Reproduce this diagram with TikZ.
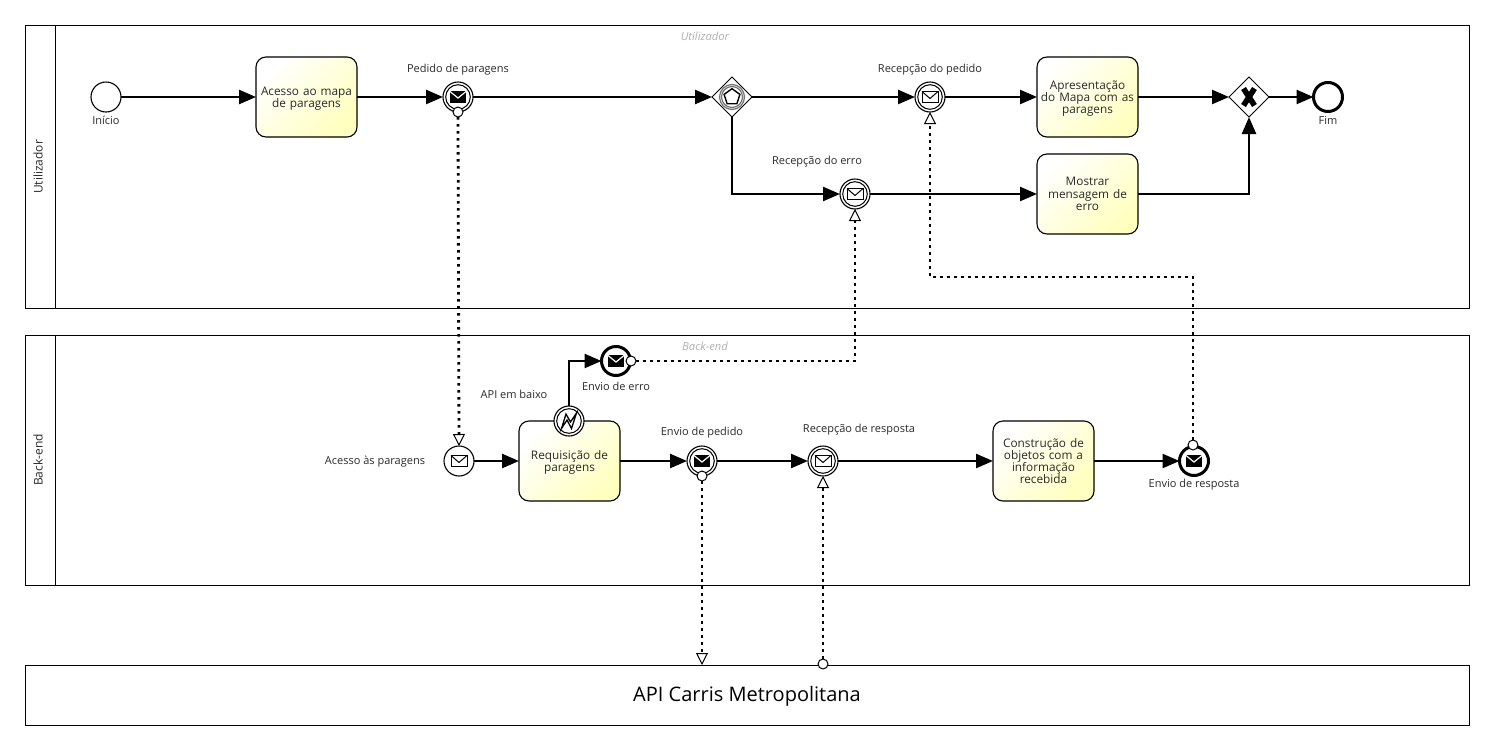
\documentclass[tikz,border=0pt]{standalone}
\usepackage{fontspec}
\setmainfont{Open Sans}
\usetikzlibrary{arrows.meta,shapes.geometric,calc}
\definecolor{txt}{HTML}{2A2A2A}
\newcommand{\balance}{\rule{0pt}{5.8pt}}
\tikzset{
  x=0.5pt,y=-0.5pt,
  pool/.style={draw=black,line width=0.5pt,fill=white,rectangle,inner sep=0pt,outer sep=0pt},
  lbl/.style={font=\fontsize{5.5}{6.5}\selectfont,text=txt,inner sep=0pt,align=center},
  lanetitle/.style={font=\fontsize{6}{7}\selectfont,text=txt,inner sep=0pt,rotate=90},
  pooltop/.style={font=\itshape\fontsize{5.6}{6.6}\selectfont,text=black!30,inner sep=0pt},
  task/.style={draw=black,line width=0.55pt,rectangle,rounded corners=5pt,minimum width=50.5pt,minimum height=40pt,
    inner sep=0pt,outer sep=0pt,text width=49.5pt,align=center,font=\fontsize{5.9}{6.1}\selectfont,text=txt,
    shading=axis,left color=white,right color=yellow!25!white,shading angle=45},
  evt/.style={draw=black,fill=white,circle,line width=0.55pt,minimum size=15pt,inner sep=0pt,outer sep=0pt},
  thickevt/.style={evt,line width=1.5pt,minimum size=14.5pt},
  dot/.style={draw=black,fill=white,circle,line width=0.5pt,minimum size=5pt,inner sep=0pt,outer sep=0pt},
  gate/.style={draw=black,fill=white,diamond,aspect=1,line width=0.5pt,minimum size=20pt,inner sep=0pt,outer sep=0pt},
  seqflow/.style={draw=black,line width=1.2pt,-{Triangle[length=8.5pt,width=7pt]}},
  msgflow/.style={draw=black,line width=1.4pt,dash pattern=on 1.3pt off 2.2pt},
  msgtip/.style={msgflow,-{Triangle[open,length=6pt,width=6pt,line width=0.5pt,fill=white]}},
}
\newcommand{\ringat}[1]{\draw[black,line width=0.5pt] (#1) circle (12.3);}
\newcommand{\envblack}[1]{\begin{scope}[shift={(#1)}]
  \fill[black] (-8,-6) rectangle (8,6);
  \draw[white,line width=0.6pt] (-8,-5.5) -- (0,1) -- (8,-5.5);
\end{scope}}
\newcommand{\envwhite}[1]{\begin{scope}[shift={(#1)}]
  \draw[black,line width=0.5pt,fill=white] (-8,-5.5) rectangle (8,5.5);
  \draw[black,line width=0.5pt] (-8,-5.5) -- (0,1.5) -- (8,-5.5);
\end{scope}}
\begin{document}
\begin{tikzpicture}
\useasboundingbox (0,0) rectangle (1494,750);
% pools
\node[pool,minimum width=722.25pt,minimum height=141.5pt] (poolU) at (747.25,166.5) {};
\node[pool,minimum width=722.25pt,minimum height=125pt] (poolB) at (747.25,460) {};
\node[pool,minimum width=722.25pt,minimum height=30pt] (poolA) at (747.25,695) {};
\node[font=\fontsize{10}{12}\selectfont,text=black,inner sep=0pt] (poolAtext) at (747,696) {API Carris Metropolitana};
\draw[black,line width=0.5pt] ([xshift=15pt]poolU.north west) -- ([xshift=15pt]poolU.south west);
\draw[black,line width=0.5pt] ([xshift=15pt]poolB.north west) -- ([xshift=15pt]poolB.south west);
\node[lanetitle] (titleU) at (38,167) {Utilizador};
\node[lanetitle] (titleB) at (38,460) {Back-end};
\node[pooltop] (topU) at (705,36) {Utilizador};
\node[pooltop] (topB) at (705,346) {Back-end};
% Utilizador lane
\node[evt] (start) at (106,97) {};
\node[task] (mapa) at (306.5,97) {\balance Acesso ao mapa\\de paragens};
\node[evt] (pedido) at (458,97) {};
\node[gate] (evgate) at (732,97) {};
\node[evt] (recped) at (930,97) {};
\node[task] (apres) at (1087.5,97) {\balance Apresentação\\do Mapa com as\\paragens};
\node[gate] (xor) at (1249,97) {};
\node[thickevt] (fim) at (1328,97) {};
\node[evt] (recerro) at (855,194) {};
\node[task] (erro) at (1087.5,194) {Mostrar\\mensagem de\\erro};
% Back-end lane
\node[evt] (acesso) at (459,461) {};
\node[task] (req) at (569.5,461) {\balance Requisição de\\paragens};
\node[evt] (bound) at (569,421) {};
\node[thickevt] (enverro) at (616,361) {};
\node[evt] (envped) at (702,461) {};
\node[evt] (recresp) at (823,461) {};
\node[task] (constr) at (1043.5,461) {Construção de\\objetos com a\\informação\\recebida};
\node[thickevt] (envresp) at (1194,461) {};
% rings and glyphs
\ringat{pedido}\ringat{recped}\ringat{recerro}\ringat{bound}\ringat{envped}\ringat{recresp}
\envblack{pedido}\envblack{envped}\envblack{enverro}\envblack{envresp}
\envwhite{recped}\envwhite{recerro}\envwhite{acesso}\envwhite{recresp}
% gateway glyphs
\draw[black!55,line width=0.6pt] (evgate) circle (12.5) (evgate) circle (10.5);
\draw[black,line width=0.7pt,line join=miter] ($(evgate)+(0,-8.3)$) -- ++(7.9,5.7) -- ++(-3,9.3) -- ++(-9.8,0) -- ++(-3,-9.3) -- cycle;
\draw[black,line width=2.8pt] ($(xor)+(-5.5,-8.5)$) -- ($(xor)+(5.5,8.5)$) ($(xor)+(5.5,-8.5)$) -- ($(xor)+(-5.5,8.5)$);
% error glyph
\draw[black,line width=0.65pt,line join=miter] ($(bound)+(-7.5,7.5)$) -- ($(bound)+(-3,-7)$) -- ($(bound)+(1.5,1)$) -- ($(bound)+(7.5,-8)$) -- ($(bound)+(2.5,7.5)$) -- ($(bound)+(-2,-1)$) -- cycle;
% sequence flows
\draw[seqflow] (start) -- (mapa);
\draw[seqflow] (mapa) -- (pedido);
\draw[seqflow] (pedido) -- (evgate);
\draw[seqflow] (evgate) -- (recped);
\draw[seqflow] (recped) -- (apres);
\draw[seqflow] (apres) -- (xor);
\draw[seqflow] (xor) -- (fim);
\draw[seqflow] (evgate.south) |- (recerro.west);
\draw[seqflow] (recerro) -- (erro);
\draw[seqflow] (erro.east) -| (xor.south);
\draw[seqflow] (acesso) -- (req);
\draw[seqflow] (bound.north) |- (enverro.west);
\draw[seqflow] (req.east |- envped) -- (envped);
\draw[seqflow] (envped) -- (recresp);
\draw[seqflow] (recresp) -- (constr);
\draw[seqflow] (constr) -- (envresp);
% attachment dots
\node[dot] (dPed) at (458,112) {};
\node[dot] (dErr) at (631,361) {};
\node[dot] (dEnv) at (702,476) {};
\node[dot] (dRes) at (1193,445) {};
\node[dot] (dApi) at (823,664) {};
\coordinate (apiIn) at (702,665);
\coordinate (bendR) at (1193,277);
\coordinate (bendL) at (930,277);
% message flows
\draw[msgtip] (dPed.south) -- (acesso.north);
\draw[msgtip] (dErr.east) -| (recerro.south);
\draw[msgtip] (dRes.north) -- (bendR) -- (bendL) -- (recped.south);
\draw[msgtip] (dEnv.south) -- (apiIn);
\draw[msgtip] (dApi.north) -- (recresp.south);
% labels
\node[lbl] (lInicio) at (106,120) {Início};
\node[lbl] (lPedido) at (458,70) {Pedido de paragens};
\node[lbl] (lRecPed) at (930,70) {Recepção do pedido};
\node[lbl] (lRecErr) at (817,162) {Recepção do erro};
\node[lbl] (lFim) at (1328,120) {Fim};
\node[lbl] (lAcesso) at (375,462) {Acesso às paragens};
\node[lbl] (lApi) at (514,394) {API em baixo};
\node[lbl] (lEnvErr) at (616,386) {Envio de erro};
\node[lbl] (lEnvPed) at (702,433) {Envio de pedido};
\node[lbl] (lRecRes) at (859,430) {Recepção de resposta};
\node[lbl] (lEnvRes) at (1194,485) {Envio de resposta};
\end{tikzpicture}
\end{document}
